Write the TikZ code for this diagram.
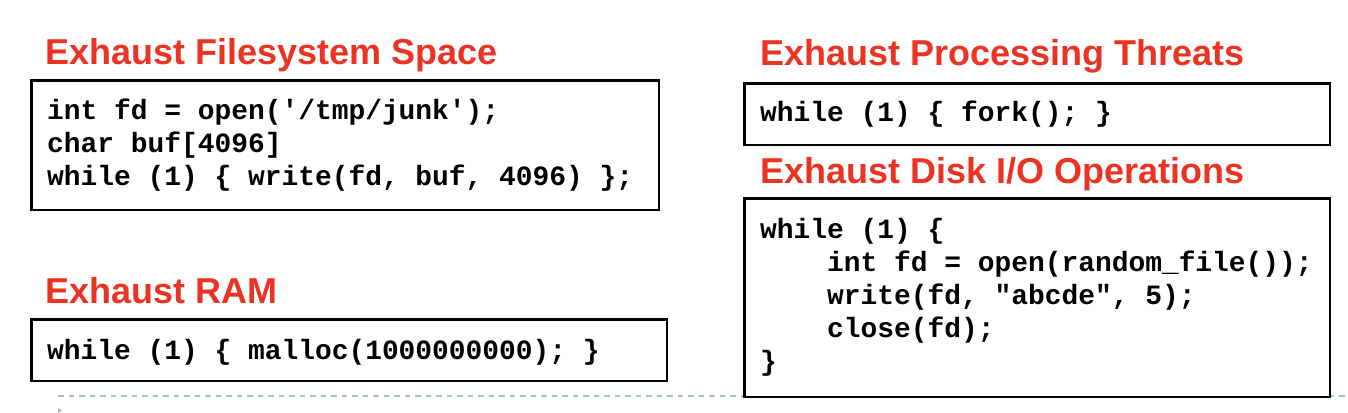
\documentclass[tikz,border=0pt]{standalone}
\usepackage{fontspec}
\newfontfamily\titlefont{Liberation Sans}[BoldFont={Liberation Sans Bold}]
\newfontfamily\codefont{Liberation Mono}[BoldFont={Liberation Mono Bold}]
\definecolor{titlered}{RGB}{234,51,35}
\definecolor{dashblue}{RGB}{168,188,208}
\definecolor{trigray}{RGB}{170,180,190}
\tikzset{
  title/.style={anchor=base west, inner sep=0pt, text=titlered, font=\titlefont\bfseries\fontsize{36}{40}\selectfont},
  code/.style={anchor=base west, inner sep=0pt, font=\codefont\bfseries\fontsize{27.9}{33}\selectfont},
  codebox/.style={draw=black, line width=2.6pt},
}
\begin{document}
\begin{tikzpicture}[x=1pt,y=-1pt]
\useasboundingbox (0,0) rectangle (1348,412);
% footer dashed line
\draw[dashblue, line width=1.2pt, dash pattern=on 5.5pt off 5pt] (58,396) -- (1348,396);
\fill[trigray] (58,408) -- (62,410.5) -- (58,413) -- cycle;

% left column
\node[title] (t1) at (45,64) {Exhaust Filesystem Space};
\draw[codebox] (31.5,80.5) rectangle (659,210);
\node[code] (c11) at (47,119) {int fd = open('/tmp/junk');};
\node[code] (c12) at (47,152) {char buf[4096]};
\node[code] (c13) at (47,185.5) {while (1) \{ write(fd, buf, 4096) \};};

\node[title] (t2) at (45,303) {Exhaust RAM};
\draw[codebox] (31.5,319.5) rectangle (667,381);
\node[code] (c21) at (47,359) {while (1) \{ malloc(1000000000); \}};

% right column
\node[title] (t3) at (760,66) {Exhaust Processing Threats};
\draw[codebox] (744.5,83.5) rectangle (1330,145);
\node[code] (c31) at (760,121) {while (1) \{ fork(); \}};

\node[title] (t4) at (760,183) {Exhaust Disk I/O Operations};
\draw[codebox, fill=white] (744.5,198.5) rectangle (1330,397);
\node[code] (c41) at (760,238) {while (1) \{};
\node[code] (c42) at (827,271) {int fd = open(random\_file());};
\node[code] (c43) at (827,304) {write(fd, "abcde", 5);};
\node[code] (c44) at (827,337) {close(fd);};
\node[code] (c45) at (760,370) {\}};
\end{tikzpicture}
\end{document}
